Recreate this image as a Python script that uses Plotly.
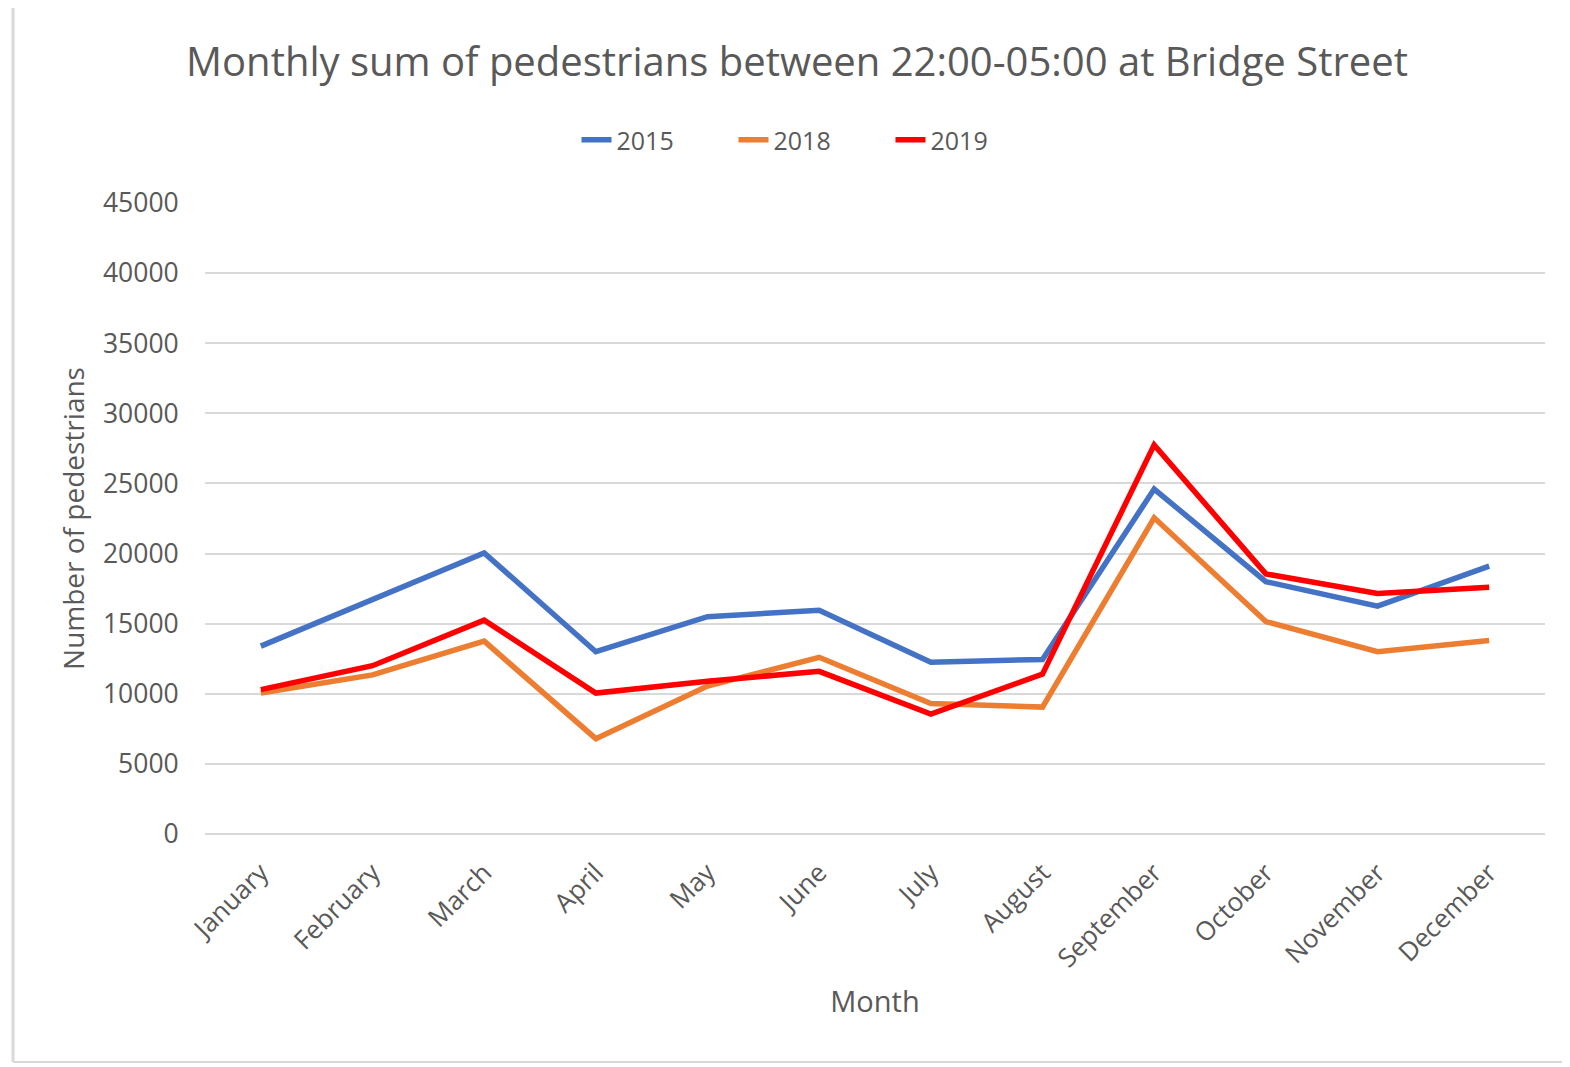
import plotly.graph_objects as go

months = ["January", "February", "March", "April", "May", "June", "July",
          "August", "September", "October", "November", "December"]

y2015 = [13400, 16700, 20050, 13000, 15500, 15950, 12250, 12450, 24600, 18000, 16250, 19100]
y2018 = [10050, 11350, 13750, 6800, 10550, 12600, 9300, 9050, 22550, 15150, 13000, 13800]
y2019 = [10300, 12000, 15250, 10050, 10900, 11600, 8550, 11400, 27750, 18550, 17150, 17600]

series = [("2015", y2015, "#4472C4"), ("2018", y2018, "#ED7D31"), ("2019", y2019, "#FF0000")]

grey_text = "#595959"
font_family = "Open Sans"

traces = []
for name, vals, col in series:
    traces.append(go.Scatter(x=months, y=vals, name=name, mode="lines",
                             line=dict(color=col, width=5.5)))

# page body has an 8px margin, so the figure starts at (8, 8)
OFF = 8
PAGE_W, PAGE_H = 1570, 1067
W, H = PAGE_W - OFF, PAGE_H - OFF
# plot area edges in page pixels
left, right, top, bottom = 205, 1545, 203, 834
L, R, T, B = left - OFF, PAGE_W - right, top - OFF, PAGE_H - bottom
pw, ph = W - L - R, H - T - B

def px(x):
    return (x - OFF - L) / pw

def py(y):
    return (H - B - (y - OFF)) / ph

fig = go.Figure(traces)
fig.update_layout(
    width=W, height=H,
    margin=dict(l=L, r=R, t=T, b=B),
    paper_bgcolor="white", plot_bgcolor="white",
    font=dict(family=font_family, color=grey_text, size=25),
    title=dict(text="Monthly sum of pedestrians between 22:00-05:00 at Bridge Street",
               xref="container", x=(797 - OFF) / W, xanchor="center",
               yref="container", y=1 - (62 - OFF) / H, yanchor="middle",
               font=dict(size=40, color=grey_text)),
    legend=dict(orientation="h", x=px(812), xanchor="center", y=py(140), yanchor="middle",
                font=dict(size=25, color=grey_text), entrywidth=112,
                bgcolor="rgba(0,0,0,0)"),
    showlegend=True,
)
fig.update_xaxes(
    tickangle=-45, range=[-0.5, 11.5], showgrid=False, showline=False, zeroline=False,
    ticks="outside", ticklen=12, tickcolor="rgba(0,0,0,0)", tickfont=dict(size=26, color=grey_text),
    title=dict(text="Month", font=dict(size=29, color=grey_text), standoff=18),
)
fig.update_yaxes(
    range=[0, 45000], dtick=5000, tickformat="d", showgrid=True, gridcolor="#D9D9D9",
    gridwidth=2, zeroline=True, zerolinecolor="#D9D9D9", zerolinewidth=2,
    ticks="outside", ticklen=20, tickcolor="rgba(0,0,0,0)", tickfont=dict(size=26.5, color=grey_text),
    title=dict(text="Number of pedestrians", font=dict(size=28, color=grey_text), standoff=10),
)

# chart-area border
border = dict(color="#D9D9D9", width=2)
fig.add_shape(type="line", xref="paper", yref="paper", x0=px(13), x1=px(13), y0=py(7), y1=py(1062), line=dict(color="#D9D9D9", width=3))
fig.add_shape(type="line", xref="paper", yref="paper", x0=px(13), x1=px(1570), y0=py(7), y1=py(7), line=border)
fig.add_shape(type="line", xref="paper", yref="paper", x0=px(13), x1=px(1570), y0=py(1062), y1=py(1062), line=border)

fig.write_html("out.html")
